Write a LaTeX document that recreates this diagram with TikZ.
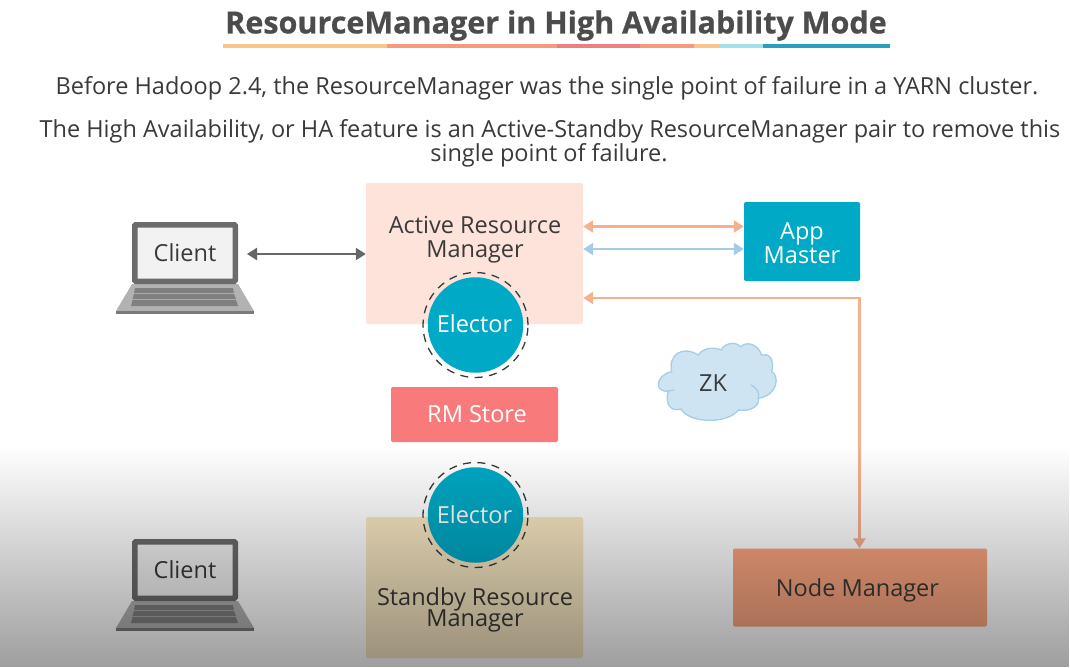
\documentclass[tikz,border=0pt]{standalone}
\usepackage{fontspec}
\setmainfont{Open Sans}
\newfontfamily\titlefont[FakeBold=0.6]{Open Sans Bold}
\usetikzlibrary{arrows.meta,fadings}
\definecolor{peach}{HTML}{FDE3DA}
\definecolor{teal1}{HTML}{00A9C6}
\definecolor{rmred}{HTML}{F97A7A}
\definecolor{orangeline}{HTML}{F5B08F}
\definecolor{blueline}{HTML}{A5CCE4}
\definecolor{txt}{HTML}{3A3A3A}
\definecolor{sbc}{HTML}{F7E7C2}
\definecolor{nmc}{HTML}{F9A57F}
\definecolor{cloudf}{HTML}{CFE4F2}
\definecolor{cloude}{HTML}{A4CDE6}
\definecolor{u1}{HTML}{FBC489}
\definecolor{u2}{HTML}{F59A7C}
\definecolor{u3}{HTML}{EE7F80}
\definecolor{u4}{HTML}{A5E0E6}
\definecolor{u5}{HTML}{2A9FBC}
\tikzfading[name=botfade, top color=transparent!100, bottom color=transparent!62]
\tikzset{
 x=1pt,y=-1pt,
 lbl/.style={font=\fontsize{23.5}{24}\selectfont},
 boxn/.style={rectangle,rounded corners=2pt,inner sep=0pt,align=center,lbl},
 circ/.style={circle,fill=teal1,minimum size=95.5pt,inner sep=0pt,text=white,lbl},
 dashring/.style={circle,draw=txt,line width=1.3pt,dash pattern=on 8pt off 6.5pt,minimum size=105pt,inner sep=0pt},
 tipboth/.style={{Triangle[length=10pt,width=12pt]}-{Triangle[length=10pt,width=12pt]}},
 body/.style={text=txt,font=\fontsize{23.5}{24}\selectfont},
 keyrow/.style={fill=black!50},
}
\newcommand{\mylaptop}[3]{%
 \begin{scope}[shift={(#1,#2)}]
 \fill[fill=black!30] (16,62) -- (122,62) -- (138,89) -- (0,89) -- cycle;
 \fill[fill=black!52] (0,89) rectangle (138,92);
 \fill[keyrow] (19,66) -- (117,66) -- (118,71) -- (18,71) -- cycle;
 \fill[keyrow] (18,72) -- (118,72) -- (120,77) -- (16.5,77) -- cycle;
 \fill[keyrow] (16.5,78) -- (120,78) -- (122,84) -- (15,84) -- cycle;
 \node[rectangle,draw=black!58,fill=black!5,line width=5.5pt,rounded corners=1pt,minimum width=100.5pt,minimum height=56.5pt,inner sep=0pt,text=txt,lbl] (#3) at (69,31) {Client};
 \end{scope}}
\begin{document}
\begin{tikzpicture}
\useasboundingbox (0,0) rectangle (1070,667);
\fill[white] (0,0) rectangle (1070,667);
% title
\node[text=black!70,font=\titlefont\fontsize{30.5}{31}\selectfont] (title) at (556,25.5) {ResourceManager in High Availability Mode};
\fill[u1] (223,44) rectangle (387,47.5);
\fill[u2] (387,44) rectangle (557,47.5);
\fill[u3] (557,44) rectangle (640,47.5);
\fill[u2] (640,44) rectangle (694,47.5);
\fill[u1] (694,44) rectangle (719,47.5);
\fill[u4] (719,44) rectangle (763,47.5);
\fill[u5] (763,44) rectangle (890,47.5);
% paragraphs
\node[body] (p1) at (547,88.5) {Before Hadoop 2.4, the ResourceManager was the single point of failure in a YARN cluster.};
\node[body] (p2) at (550,131.5) {The High Availability, or HA feature is an Active-Standby ResourceManager pair to remove this};
\node[body] (p3) at (549,155.5) {single point of failure.};
% laptops
\mylaptop{116}{222}{client1}
\mylaptop{116}{539}{client2}
% boxes
\node[boxn,fill=peach,minimum width=217pt,minimum height=141pt] (active) at (474.5,253.5) {};
\node[text=txt,lbl,align=center] (activet) at (475,239.5) {Active Resource\\Manager};
\node[boxn,fill=teal1,minimum width=116pt,minimum height=79pt] (app) at (802,241.5) {};
\node[text=white,lbl,align=center] (appt) at (802,243) {App\\Master};
\node[boxn,fill=rmred,text=white,minimum width=167pt,minimum height=55pt] (rm) at (474.5,414.5) {\hspace*{5pt}RM Store};
\node[boxn,fill=sbc,minimum width=217pt,minimum height=141pt] (standby) at (474.5,587.5) {};
\node[text=txt,lbl,align=center] (standbyt) at (475,609.5) {Standby Resource\\[-3pt]Manager};
\node[boxn,fill=nmc,minimum width=254pt,minimum height=78pt] (nm) at (860,587.5) {};
\node[text=txt,lbl] (nmt) at (857.5,590.5) {Node Manager};
% electors
\node[circ] (e1) at (475.5,325) {};
\node[text=white,lbl] (e1t) at (474.5,323.5) {Elector};
\node[dashring] (r1) at (475.5,325) {};
\node[circ] (e2) at (475.5,515) {};
\node[text=white,lbl] (e2t) at (474.5,515) {Elector};
\node[dashring] (r2) at (475.5,515) {};
% cloud
\filldraw[fill=cloudf,draw=cloude,line width=1.3pt]
 (671.7,371.7) .. controls (655,375) and (654,393) .. (668.3,391)
 .. controls (664,405) and (672,412) .. (681,409)
 .. controls (690,424) and (728,424) .. (738.3,410)
 .. controls (752,412) and (760,405) .. (758.3,398.3)
 .. controls (779,395) and (779,375) .. (771.7,371.7)
 .. controls (775,358) and (768,353) .. (761.7,355)
 .. controls (757,342) and (745,342) .. (740.7,346.7)
 .. controls (735,341) and (725,343) .. (721,350)
 .. controls (712,346) and (702,349) .. (698.3,355)
 .. controls (682,345) and (668,355) .. (671.7,371.7) -- cycle;
\draw[draw=cloude,line width=1.3pt] (751,385) .. controls (757,388) and (760,393) .. (758.3,398.3);
\draw[draw=cloude,line width=1.3pt] (668.3,391) -- (674,390);
\node[text=txt,lbl] (zk) at (713,383) {ZK};
% connectors
\coordinate (y1) at (0,254);
\coordinate (y2) at (0,226.5);
\coordinate (y3) at (0,249);
\coordinate (y4) at (0,298);
\coordinate (k) at (859.5,298);
\draw[tipboth,draw=black!60,line width=2.2pt] (client1.east |- y1) ++(9,0) -- (active.west |- y1);
\draw[tipboth,draw=orangeline,line width=2.2pt] (active.east |- y2) -- (app.west |- y2);
\draw[tipboth,draw=blueline,line width=2.2pt] (active.east |- y3) -- (app.west |- y3);
\draw[tipboth,draw=orangeline,line width=2.5pt] (active.east |- y4) -- (k) -- (k |- nm.north);
% bottom dimming overlay
\fill[black,path fading=botfade] (0,445) rectangle (1070,667);
\end{tikzpicture}
\end{document}
